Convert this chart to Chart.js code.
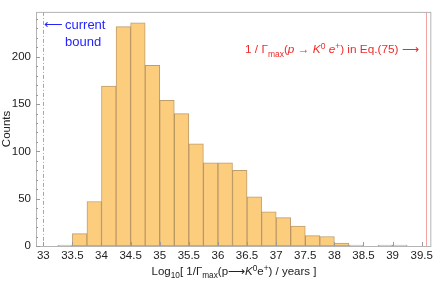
<!DOCTYPE html>
<html>
<head>
<meta charset="utf-8">
<script src="https://cdn.jsdelivr.net/npm/chart.js@4.4.0/dist/chart.umd.min.js"></script>
<style>
  html, body { margin: 0; padding: 0; background: #fff; }
  #wrap { width: 436px; height: 281px; }
</style>
</head>
<body>
<div id="wrap"><canvas id="chart" width="436" height="281"></canvas></div>
<script>
// histogram bins (left edges, width 0.25) and counts
const binStarts = [33.25, 33.5, 33.75, 34.0, 34.25, 34.5, 34.75, 35.0, 35.25, 35.5, 35.75, 36.0,
                   36.25, 36.5, 36.75, 37.0, 37.25, 37.5, 37.75, 38.0, 38.25, 38.5, 38.75, 39.0];
const counts =    [1, 13, 47, 169, 232, 236, 191, 154, 140, 108, 88, 88,
                   80, 52, 36, 30, 21, 11, 10, 3, 1, 0, 1, 1];
const binWidth = 0.25;

const xTicks = [33, 33.5, 34, 34.5, 35, 35.5, 36, 36.5, 37, 37.5, 38, 38.5, 39, 39.5];
const yTicks = [0, 50, 100, 150, 200];

// reference lines
const currentBound = 33.0;
const eq75Value = 39.57;

const FONT = '"Liberation Sans", Arial, sans-serif';

function richText(ctx, x, y, parts, base, measureOnly) {
    let cx = x;
    for (const p of parts) {
        const small = p.sub || p.sup;
        const size = small ? base * 0.72 : base;
        ctx.font = `${p.it ? 'italic ' : ''}${size}px ${FONT}`;
        const dy = p.sub ? base * 0.3 : (p.sup ? -base * 0.38 : 0);
        if (!measureOnly) ctx.fillText(p.t, cx, y + dy);
        cx += ctx.measureText(p.t).width;
    }
    return cx - x;
}

const decorPlugin = {
    id: 'decor',
    afterDatasetsDraw(chart) {
        const ctx = chart.ctx;
        const area = chart.chartArea;
        const xs = chart.scales.x;
        const ys = chart.scales.y;
        ctx.save();

        // current bound: dash-dot blue line
        let px = xs.getPixelForValue(currentBound);
        ctx.strokeStyle = '#9c9cf2';
        ctx.lineWidth = 1;
        ctx.setLineDash([4, 2, 1, 2]);
        ctx.beginPath();
        ctx.moveTo(Math.round(px) + 0.5, area.top);
        ctx.lineTo(Math.round(px) + 0.5, area.bottom);
        ctx.stroke();
        ctx.setLineDash([]);

        // Eq.(75) line: thin red
        px = xs.getPixelForValue(eq75Value);
        ctx.strokeStyle = '#f4a4a4';
        ctx.beginPath();
        ctx.moveTo(Math.round(px) + 0.5, area.top);
        ctx.lineTo(Math.round(px) + 0.5, area.bottom);
        ctx.stroke();

        // frame
        ctx.strokeStyle = '#b4b4b4';
        ctx.strokeRect(area.left + 0.5, area.top + 0.5, area.right - area.left - 1, area.bottom - area.top);

        // inner ticks
        ctx.strokeStyle = '#9a9a9a';
        ctx.beginPath();
        for (let v = 0; v <= ys.max; v += 10) {
            const py = Math.round(ys.getPixelForValue(v)) + 0.5;
            const len = v % 50 === 0 ? 4 : 2;
            ctx.moveTo(area.left, py);
            ctx.lineTo(area.left + len, py);
        }
        for (const v of xTicks) {
            const tx = Math.round(xs.getPixelForValue(v)) + 0.5;
            ctx.moveTo(tx, area.bottom);
            ctx.lineTo(tx, area.bottom - 4);
        }
        ctx.stroke();

        // labels
        ctx.textBaseline = 'alphabetic';
        ctx.textAlign = 'left';
        ctx.fillStyle = '#2424ff';
        ctx.font = `13px ${FONT}`;
        ctx.fillText('\u27F5', 44, 29);
        ctx.fillText('current', 65, 29);
        ctx.fillText('bound', 65, 46);

        ctx.fillStyle = '#f02a2a';
        const redParts = [
            { t: '1 / \u0393' }, { t: 'max', sub: true }, { t: '(' }, { t: 'p', it: true },
            { t: ' \u2192 ' }, { t: 'K', it: true }, { t: '0', sup: true }, { t: ' ' },
            { t: 'e', it: true }, { t: '+', sup: true }, { t: ') in Eq.(75) \u27F6' }
        ];
        richText(ctx, 245, 53, redParts, 11.8);

        // axis titles
        ctx.fillStyle = '#222';
        const titleParts = [
            { t: 'Log' }, { t: '10', sub: true }, { t: '[ 1/\u0393' }, { t: 'max', sub: true },
            { t: '(p\u27F6' }, { t: 'K', it: true }, { t: '0', sup: true }, { t: 'e' },
            { t: '+', sup: true }, { t: ') / years ]' }
        ];
        const w = richText(ctx, 0, 0, titleParts, 11.5, true);
        richText(ctx, 234 - w / 2, 275, titleParts, 11.5);

        ctx.save();
        ctx.translate(10, (area.top + area.bottom) / 2);
        ctx.rotate(-Math.PI / 2);
        ctx.textAlign = 'center';
        ctx.font = `11.5px ${FONT}`;
        ctx.fillText('Counts', 0, 0);
        ctx.restore();

        ctx.restore();
    }
};

const points = binStarts
    .map((s, i) => ({ x: s + binWidth / 2, y: counts[i] }))
    .filter(p => p.y > 0);

new Chart(document.getElementById('chart'), {
    type: 'bar',
    data: {
        datasets: [{
            data: points,
            backgroundColor: '#fdcd7e',
            borderColor: 'rgba(170, 125, 60, 0.75)',
            borderWidth: 1,
            borderSkipped: false,
            barPercentage: 1,
            categoryPercentage: 1
        }]
    },
    options: {
        responsive: false,
        devicePixelRatio: 1,
        animation: false,
        layout: { padding: { top: 1, right: 4, left: 0, bottom: 0 } },
        plugins: { legend: { display: false }, tooltip: { enabled: false } },
        scales: {
            x: {
                type: 'linear',
                offset: false,
                min: 32.875,
                max: 39.665,
                grid: { display: false, drawTicks: false, offset: false },
                border: { display: false },
                afterBuildTicks: s => { s.ticks = xTicks.map(v => ({ value: v })); },
                afterFit: s => { s.height = 35; },
                ticks: {
                    padding: 3,
                    color: '#222',
                    font: { family: FONT, size: 11.5 },
                    maxRotation: 0,
                    autoSkip: false,
                    callback: v => String(v)
                }
            },
            y: {
                min: 0,
                max: 247.5,
                grid: { display: false, drawTicks: false },
                border: { display: false },
                afterBuildTicks: s => { s.ticks = yTicks.map(v => ({ value: v })); },
                afterFit: s => { s.width = 36; },
                ticks: {
                    padding: 5,
                    color: '#222',
                    font: { family: FONT, size: 11.5 },
                    callback: v => String(v)
                }
            }
        }
    },
    plugins: [decorPlugin]
});
</script>
</body>
</html>
